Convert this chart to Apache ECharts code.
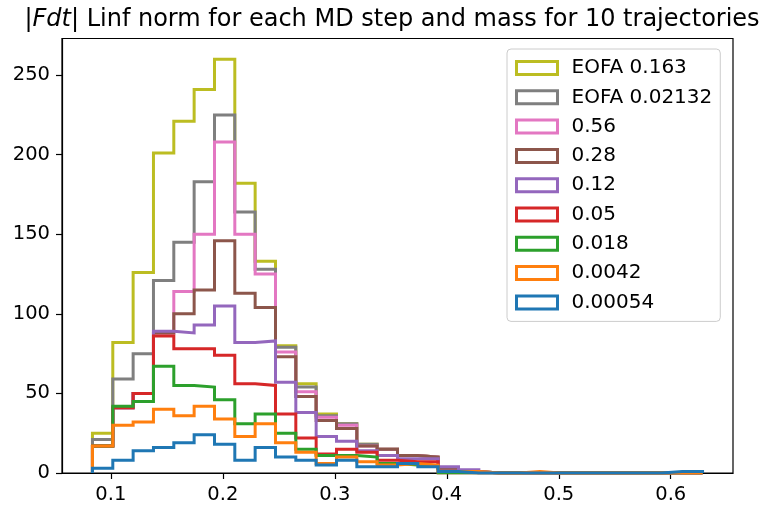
<!DOCTYPE html>
<html>
<head>
<meta charset="utf-8">
<script src="https://cdn.jsdelivr.net/npm/echarts@6/dist/echarts.min.js"></script>
<style>html,body{margin:0;padding:0;background:#fff;}#c{width:769px;height:509px;}</style>
</head>
<body>
<div id="c"></div>
<script>
// Histogram range and bin count (shared by all series)
const binMin = 0.0836;
const binMax = 0.6284;
const nBins = 30;

const seriesNames = ['EOFA 0.163', 'EOFA 0.02132', '0.56', '0.28', '0.12', '0.05', '0.018', '0.0042', '0.00054'];
const seriesColors = ['#bcbd22', '#7f7f7f', '#e377c2', '#8c564b', '#9467bd', '#d62728', '#2ca02c', '#ff7f0e', '#1f77b4'];

// counts per bin
const eofa0163  = [25, 82, 126, 201, 221, 241, 260, 182, 133, 80, 56, 37, 31, 18, 15, 11, 10, 3, 1, 0, 0, 0, 0, 0, 0, 0, 0, 0, 0, 0];
const eofa02132 = [21, 59, 75, 121, 145, 183, 225, 164, 128, 79, 54, 36, 31, 18, 15, 11, 10, 3, 1, 0, 0, 0, 0, 0, 0, 0, 0, 0, 0, 0];
const m056      = [17, 41, 50, 88, 114, 150, 208, 150, 125, 76, 51, 35, 30, 17, 15, 11, 10, 3, 1, 0, 0, 0, 0, 0, 0, 0, 0, 0, 0, 0];
const m028      = [17, 41, 50, 88, 100, 115, 146, 113, 104, 73, 48, 33, 28, 17, 15, 11, 10, 3, 1, 0, 0, 0, 0, 0, 0, 0, 0, 0, 0, 0];
const m012      = [17, 41, 50, 89, 88, 93, 105, 82, 83, 57, 38, 23, 20, 14, 11, 9, 9, 4, 2, 0, 0, 0, 0, 0, 0, 0, 0, 0, 0, 0];
const m005      = [17, 41, 50, 86, 78, 78, 74, 56, 55, 37, 22, 12, 15, 13, 8, 7, 7, 0, 0, 0, 0, 0, 0, 0, 0, 0, 0, 0, 0, 0];
const m0018     = [17, 42, 45, 67, 55, 54, 46, 31, 37, 25, 15, 11, 11, 10, 6, 5, 4, 0, 0, 0, 0, 0, 0, 0, 0, 0, 0, 0, 0, 0];
const m00042    = [17, 30, 32, 40, 36, 42, 34, 23, 31, 19, 13, 6, 10, 7, 5, 6, 5, 1, 1, 0, 0, 1, 0, 0, 0, 0, 0, 0, 0, 0];
const m000054   = [3, 8, 14, 16, 19, 24, 18, 8, 16, 10, 8, 5, 8, 4, 4, 6, 4, 1, 0, 0, 0, 0, 0, 0, 0, 0, 0, 0, 1, 1];

const seriesCounts = [eofa0163, eofa02132, m056, m028, m012, m005, m0018, m00042, m000054];

const xTicks = [0.1, 0.2, 0.3, 0.4, 0.5, 0.6];
const yTicks = [0, 50, 100, 150, 200, 250];

const xMin = 0.0564, xMax = 0.6556, yMax = 273;

const FONT = 'DejaVu Sans';
const LW = 3;

function stepPoints(counts) {
  const w = (binMax - binMin) / nBins;
  const pts = [[binMin, 0]];
  for (let i = 0; i < counts.length; i++) {
    const a = binMin + i * w, b = binMin + (i + 1) * w;
    pts.push([a, counts[i]]);
    pts.push([b, counts[i]]);
  }
  pts.push([binMax, 0]);
  return pts;
}

const chart = echarts.init(document.getElementById('c'), null, {renderer: 'canvas'});
chart.setOption({
  animation: false,
  backgroundColor: '#fff',
  title: {
    text: '|{i|Fdt}| Linf norm for each MD step and mass for 10 trajectories',
    left: 392, top: 7.5, textAlign: 'center', padding: 0,
    textStyle: {
      fontFamily: FONT, fontSize: 24, fontWeight: 'normal', color: '#000',
      rich: { i: { fontFamily: FONT, fontSize: 24, fontStyle: 'italic', color: '#000' } }
    }
  },
  grid: { left: 62, right: 36, top: 38.5, bottom: 36, show: true, borderColor: '#000', borderWidth: 1.2, backgroundColor: 'transparent' },
  legend: {
    orient: 'vertical', left: 507, top: 49,
    itemWidth: 41, itemHeight: 13, itemGap: 9.3,
    padding: [9, 8, 9, 8],
    backgroundColor: '#fff', borderColor: '#cccccc', borderWidth: 1, borderRadius: 4,
    textStyle: { fontFamily: FONT, fontSize: 20, color: '#000', padding: [0, 0, 0, 9] },
    data: seriesNames.map((n, i) => ({ name: n, icon: 'rect', itemStyle: { color: '#fff', borderColor: seriesColors[i], borderWidth: LW } }))
  },
  xAxis: {
    type: 'value', min: xMin, max: xMax,
    axisLine: { show: true, lineStyle: { color: '#000', width: 1.2 } },
    axisTick: { show: true, length: 6, lineStyle: { color: '#000', width: 1.2 }, customValues: xTicks },
    axisLabel: { customValues: xTicks, fontFamily: FONT, fontSize: 19.5, color: '#000', margin: 12, formatter: v => v.toFixed(1) },
    splitLine: { show: false }
  },
  yAxis: {
    type: 'value', min: 0, max: yMax,
    axisLine: { show: true, lineStyle: { color: '#000', width: 1.2 } },
    axisTick: { show: true, length: 6, lineStyle: { color: '#000', width: 1.2 }, customValues: yTicks },
    axisLabel: { customValues: yTicks, fontFamily: FONT, fontSize: 19.5, color: '#000', margin: 12 },
    splitLine: { show: false }
  },
  series: seriesNames.map((n, i) => ({
    name: n, type: 'line', data: stepPoints(seriesCounts[i]),
    showSymbol: false, symbol: 'none', color: seriesColors[i],
    lineStyle: { color: seriesColors[i], width: LW, join: 'miter', cap: 'butt' },
    clip: true, silent: true
  }))
});
</script>
</body>
</html>
